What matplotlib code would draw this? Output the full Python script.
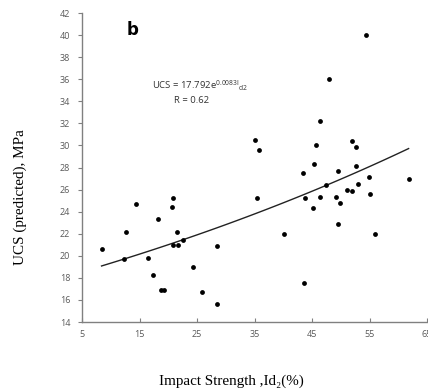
import numpy as np
import matplotlib
matplotlib.use("Agg")
import matplotlib.pyplot as plt

impact_strength = [8.4, 12.3, 12.7, 14.4, 16.5, 17.3, 18.2, 18.7, 19.3, 20.6, 20.9, 21.5,
                   20.9, 21.7, 22.5, 24.3, 25.9, 28.4, 28.5, 35.4, 40.2, 43.6, 43.8, 45.2,
                   46.4, 47.5, 49.1, 49.9, 49.5, 51.0, 51.9, 53.0, 55.0, 56.0, 54.4, 47.9,
                   46.4, 35.0, 35.7, 45.7, 52.0, 52.6, 45.3, 43.5, 49.6, 52.7, 54.9, 61.8]
ucs_predicted = [20.6, 19.7, 22.2, 24.7, 19.8, 18.3, 23.3, 16.9, 16.9, 24.4, 25.2, 22.2,
                 21.0, 21.0, 21.4, 19.0, 16.7, 20.9, 15.6, 25.2, 22.0, 17.5, 25.2, 24.3,
                 25.3, 26.4, 25.3, 24.8, 22.9, 26.0, 25.9, 26.5, 25.6, 22.0, 40.0, 36.0,
                 32.2, 30.5, 29.6, 30.0, 30.4, 29.9, 28.3, 27.5, 27.7, 28.1, 27.1, 27.0]
fit_a = 17.792
fit_b = 0.0083
x_ticks = [5, 15, 25, 35, 45, 55, 65]
y_ticks = list(range(14, 43, 2))

plt.rcParams['mathtext.fontset'] = 'custom'
plt.rcParams['mathtext.rm'] = 'Open Sans'
plt.rcParams['mathtext.it'] = 'Open Sans'

fig = plt.figure(figsize=(4.28, 3.92), dpi=100)
ax = fig.add_axes([82/428, 1-322/392, (427-82)/428, (322-13)/392])

ax.scatter(impact_strength, ucs_predicted, s=12, color="black", zorder=3, linewidths=0)
xf = np.linspace(min(impact_strength), max(impact_strength), 100)
ax.plot(xf, fit_a*np.exp(fit_b*xf), color="#222222", lw=1.0)

ax.set_xlim(5, 65)
ax.set_ylim(14, 42)
ax.set_xticks(x_ticks)
ax.set_yticks(y_ticks)
grey = "#808080"
for s in ["top", "right"]:
    ax.spines[s].set_visible(False)
for s in ["left", "bottom"]:
    ax.spines[s].set_color(grey)
    ax.spines[s].set_linewidth(1.0)
ax.tick_params(axis="both", length=3, width=0.8, color=grey,
               labelsize=6.5, labelcolor="#595959")
ax.tick_params(axis="x", direction="in", pad=6)
ax.tick_params(axis="y", direction="out", pad=5.5)
for lab in ax.get_xticklabels() + ax.get_yticklabels():
    lab.set_fontfamily("Open Sans")

ax.text(12.8, 40.0, "b", fontsize=12, fontweight="bold", family="DejaVu Sans")
ax.text(17.2, 35.4, r"UCS = 17.792e$^{\rm 0.0083I}$$_{\rm d2}$", fontsize=6.8,
        family="Open Sans", color="#333333", va="center")
ax.text(21.0, 34.1, "R = 0.62", fontsize=6.8, family="Open Sans", color="#333333",
        va="center")

fig.text(231/428, 1-381/392, "Impact Strength ,Id\u2082(%)", ha="center", va="center",
         fontsize=10.9, family=["Liberation Serif", "DejaVu Serif"])
fig.text(20/428, 1-197.5/392, "UCS (predicted), MPa", ha="center", va="center",
         rotation=90, fontsize=10.9, family=["Liberation Serif", "DejaVu Serif"])

fig.savefig("out.png", dpi=100)
